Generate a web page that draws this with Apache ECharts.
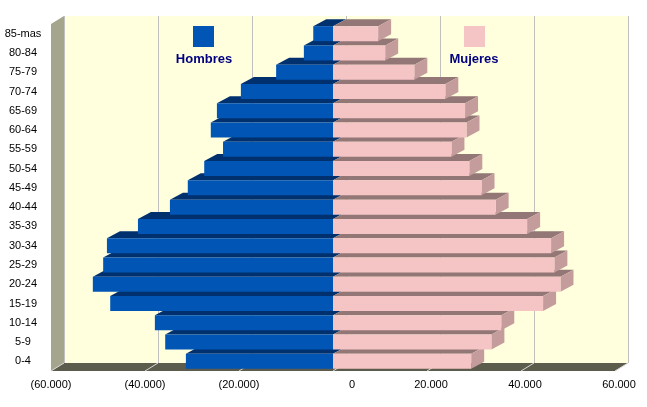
<!DOCTYPE html>
<html>
<head>
<meta charset="utf-8">
<script src="https://cdn.jsdelivr.net/npm/echarts@6/dist/echarts.min.js"></script>
<style>
  html, body { margin: 0; padding: 0; background: #fff; }
  #main { width: 647px; height: 407px; }
</style>
</head>
<body>
<div id="main"></div>
<script>
const categories = ['0-4', '5-9', '10-14', '15-19', '20-24', '25-29', '30-34', '35-39', '40-44',
  '45-49', '50-54', '55-59', '60-64', '65-69', '70-74', '75-79', '80-84', '85-mas']
const hombres = [31300, 35700, 37900, 47400, 51100, 48900, 48100, 41500, 34700,
  30900, 27400, 23400, 26000, 24700, 19600, 12100, 6200, 4200]
const mujeres = [29400, 33700, 35800, 44700, 48400, 47100, 46400, 41300, 34600,
  31600, 29000, 25200, 28400, 28100, 23900, 17300, 11100, 9600]
const tickValues = [-60000, -40000, -20000, 0, 20000, 40000, 60000]

const FONT = 'Liberation Sans, Arial, sans-serif'
// plano frontal y desplazamiento de profundidad (efecto 3D)
const front = { left: 51, top: 24, right: 32, bottom: 36 }
const depth = [13, -8]
const barDepth = [13, -7]
const barH = 15
const W = 647, H = 407

function fmt(v) {
  return String(v).replace(/\B(?=(\d{3})+(?!\d))/g, '.')
}

function makeBar(colors) {
  return function (params, api) {
    const v = api.value(0)
    const c = api.value(1)
    const a = api.coord([0, c])
    const b = api.coord([v, c])
    const xl = Math.min(a[0], b[0])
    const xr = Math.max(a[0], b[0])
    const yt = a[1] - barH / 2
    const yb = a[1] + barH / 2
    const [dx, dy] = barDepth
    const children = [{
      type: 'polygon',
      shape: { points: [[xl, yt], [xl + dx, yt + dy], [xr + dx, yt + dy], [xr, yt]] },
      style: { fill: colors.top }
    }]
    if (v > 0) {
      children.push({
        type: 'polygon',
        shape: { points: [[xr, yt], [xr + dx, yt + dy], [xr + dx, yb + dy], [xr, yb]] },
        style: { fill: colors.side }
      })
    }
    children.push({
      type: 'rect',
      shape: { x: xl, y: yt, width: xr - xl, height: barH },
      style: { fill: colors.front }
    })
    return { type: 'group', children }
  }
}

const chart = echarts.init(document.getElementById('main'))

const fl = front.left, ft = front.top, fr = W - front.right, fb = H - front.bottom
const [ddx, ddy] = depth

chart.setOption({
  backgroundColor: '#ffffff',
  animation: false,
  grid: [
    { // pared del fondo
      left: fl + ddx, right: front.right - ddx, top: ft + ddy, bottom: front.bottom - ddy,
      show: true, backgroundColor: '#FFFFDD', borderWidth: 0
    },
    { left: fl, right: front.right, top: ft, bottom: front.bottom }
  ],
  xAxis: [
    {
      gridIndex: 0, type: 'value', min: -60000, max: 60000, interval: 20000,
      axisLabel: { show: false }, axisTick: { show: false }, axisLine: { show: false },
      splitLine: { show: true, lineStyle: { color: '#C0C0C0', width: 1 } }
    },
    {
      gridIndex: 1, type: 'value', min: -60000, max: 60000, interval: 20000,
      axisTick: { show: false }, axisLine: { show: false }, splitLine: { show: false },
      axisLabel: {
        margin: 8, color: '#000', fontSize: 11, fontFamily: FONT,
        formatter: v => v < 0 ? '(' + fmt(-v) + ')' : (v === 0 ? '{z|0}' : '{p|' + fmt(v) + '}'),
        rich: {
          z: { padding: [0, 0, 0, 38], color: '#000', fontSize: 11, fontFamily: FONT },
          p: { padding: [0, 0, 0, 8], color: '#000', fontSize: 11, fontFamily: FONT }
        }
      }
    }
  ],
  yAxis: [
    { gridIndex: 0, type: 'category', data: categories, show: false },
    {
      gridIndex: 1, type: 'category', data: categories,
      axisLine: { show: false }, axisTick: { show: false }, splitLine: { show: false },
      axisLabel: { align: 'center', margin: 28, color: '#000', fontSize: 11, fontFamily: FONT }
    }
  ],
  graphic: [
    { // pared izquierda
      type: 'polygon', z: 0,
      shape: { points: [[fl, ft], [fl + ddx, ft + ddy], [fl + ddx, fb + ddy], [fl, fb]] },
      style: { fill: '#A5A58D' }
    },
    { // suelo
      type: 'polygon', z: 0,
      shape: { points: [[fl, fb], [fl + ddx, fb + ddy], [fr + ddx, fb + ddy], [fr, fb]] },
      style: { fill: '#5C5C4C' }
    },
    { type: 'rect', z: 5, shape: { x: 193, y: 26, width: 21, height: 21 }, style: { fill: '#0055B5' } },
    {
      type: 'text', z: 5, x: 204, y: 59,
      style: { text: 'Hombres', align: 'center', verticalAlign: 'middle', textAlign: 'center', textVerticalAlign: 'middle',
        fill: '#000080', font: 'bold 13px ' + FONT }
    },
    { type: 'rect', z: 5, shape: { x: 464, y: 26, width: 21, height: 21 }, style: { fill: '#F5C5C5' } },
    {
      type: 'text', z: 5, x: 474, y: 59,
      style: { text: 'Mujeres', align: 'center', verticalAlign: 'middle', textAlign: 'center', textVerticalAlign: 'middle',
        fill: '#000080', font: 'bold 13px ' + FONT }
    }
  ],
  series: [
    {
      name: 'floorTicks', type: 'custom', xAxisIndex: 1, yAxisIndex: 1, z: 2, silent: true,
      data: tickValues.map(v => [v, 0]),
      renderItem: (params, api) => {
        const p = api.coord([api.value(0), 0])
        const yb = params.coordSys.y + params.coordSys.height
        return {
          type: 'line',
          shape: { x1: p[0], y1: yb, x2: p[0] + ddx, y2: yb + ddy },
          style: { stroke: '#D8D8D8', lineWidth: 1 }
        }
      }
    },
    {
      name: 'Hombres', type: 'custom', xAxisIndex: 1, yAxisIndex: 1, z: 3,
      data: hombres.map((v, i) => [-v, i]),
      encode: { x: 0, y: 1 },
      renderItem: makeBar({ front: '#0055B5', top: '#00306E', side: '#00306E' })
    },
    {
      name: 'Mujeres', type: 'custom', xAxisIndex: 1, yAxisIndex: 1, z: 3,
      data: mujeres.map((v, i) => [v, i]),
      encode: { x: 0, y: 1 },
      renderItem: makeBar({ front: '#F5C5C5', top: '#937676', side: '#C49C9C' })
    }
  ]
})
</script>
</body>
</html>
